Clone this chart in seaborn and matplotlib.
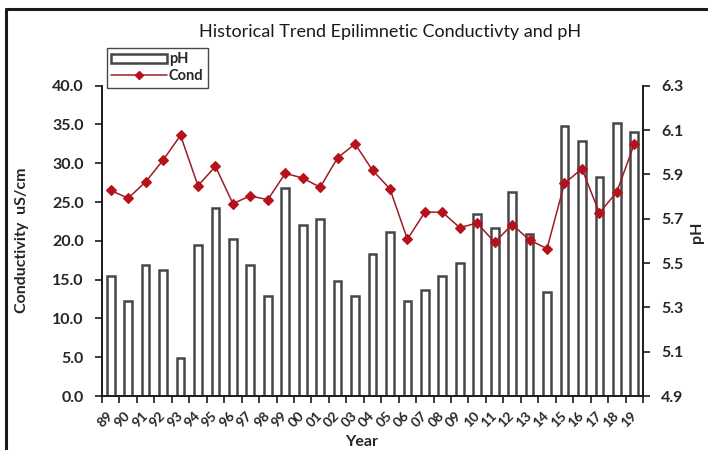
import matplotlib
matplotlib.use("Agg")
import matplotlib.pyplot as plt
from matplotlib.lines import Line2D
from matplotlib.patches import Patch
from matplotlib.ticker import FixedLocator, FixedFormatter, FormatStrFormatter
import seaborn as sns
import pandas as pd

years = ["89", "90", "91", "92", "93", "94", "95", "96", "97", "98",
         "99", "00", "01", "02", "03", "04", "05", "06", "07", "08",
         "09", "10", "11", "12", "13", "14", "15", "16", "17", "18", "19"]
ph = [5.44, 5.33, 5.49, 5.47, 5.07, 5.58, 5.75, 5.61, 5.49, 5.35,
      5.84, 5.67, 5.70, 5.42, 5.35, 5.54, 5.64, 5.33, 5.38, 5.44,
      5.50, 5.72, 5.66, 5.82, 5.63, 5.37, 6.12, 6.05, 5.89, 6.13, 6.09]
cond = [26.5, 25.5, 27.6, 30.4, 33.6, 27.1, 29.6, 24.8, 25.8, 25.3,
        28.7, 28.1, 26.9, 30.7, 32.5, 29.1, 26.7, 20.2, 23.7, 23.7,
        21.7, 22.3, 19.8, 22.1, 20.1, 19.0, 27.4, 29.3, 23.6, 26.3, 32.5]

title = "Historical Trend Epilimnetic Conductivty and pH"
cond_label = "Conductivity  uS/cm"
ph_label = "pH"
x_label = "Year"

df = pd.DataFrame({"Year": years, "pH": ph, "Cond": cond})

sns.set_theme(style="white")
plt.rcParams["font.family"] = ["Lato", "DejaVu Sans"]

TXT = "#262626"
BAR_EDGE = "#474747"
LINE_C = "#9e1b24"
MARK_C = "#b5121b"

fig = plt.figure(figsize=(7.08, 4.5), dpi=100)
fig.patch.set_facecolor("white")
ax1 = fig.add_axes([102 / 708, 1 - 396 / 450, 541 / 708, 310.3 / 450])
ax2 = ax1.twinx()

# pH bars on the right axis
sns.barplot(data=df, x="Year", y="pH", order=years, ax=ax2, color="white",
            edgecolor=BAR_EDGE, linewidth=1.8, width=0.44, errorbar=None)
ax2.set_ylim(4.9, 6.3)

# conductivity line on the left axis, drawn above the bars
sns.pointplot(data=df, x="Year", y="Cond", order=years, ax=ax1,
              color=LINE_C, markers="D", linestyles="-", errorbar=None,
              markersize=5.5, linewidth=1.1)
for ln in ax1.lines:
    ln.set_markerfacecolor(MARK_C)
    ln.set_markeredgecolor(MARK_C)
ax1.set_ylim(0, 40)
ax1.set_zorder(ax2.get_zorder() + 1)
ax1.patch.set_visible(False)

n = len(years)
for ax in (ax1, ax2):
    ax.set_xlim(-0.5, n - 0.5)
    ax.set_xlabel("")
    ax.set_ylabel("")
    for s in ax.spines.values():
        s.set_visible(False)

# x axis: ticks between categories, labels at centers
ax1.spines["bottom"].set_visible(True)
ax1.spines["bottom"].set_color("#1a1a1a")
ax1.spines["bottom"].set_linewidth(1.4)
ax1.xaxis.set_major_locator(FixedLocator([i - 0.5 for i in range(n + 1)]))
ax1.xaxis.set_minor_locator(FixedLocator(list(range(n))))
ax1.set_xticklabels([""] * (n + 1))
ax1.xaxis.set_minor_formatter(FixedFormatter(years))
ax1.tick_params(axis="x", which="major", bottom=True, length=5, width=1.2,
                color="#1a1a1a", direction="out")
ax1.tick_params(axis="x", which="minor", bottom=True, length=0, pad=13,
                labelsize=10, labelcolor=TXT)
for lbl in ax1.xaxis.get_minorticklabels():
    lbl.set_rotation(45)
    lbl.set_rotation_mode("anchor")
    lbl.set_ha("right")
    lbl.set_va("center")
    lbl.set_fontweight("bold")
ax2.tick_params(axis="x", which="both", bottom=False, labelbottom=False)

# left axis (conductivity)
ax1.spines["left"].set_visible(True)
ax1.spines["left"].set_color("#1a1a1a")
ax1.spines["left"].set_linewidth(1.4)
ax1.set_yticks([0, 5, 10, 15, 20, 25, 30, 35, 40])
ax1.yaxis.set_major_formatter(FormatStrFormatter("%.1f"))
ax1.tick_params(axis="y", left=True, length=5, width=1.2, color="#1a1a1a",
                direction="out", labelsize=11.5, labelcolor=TXT, pad=8)
for lbl in ax1.get_yticklabels():
    lbl.set_fontweight("bold")

# right axis (pH)
ax2.spines["right"].set_visible(True)
ax2.spines["right"].set_color("#1a1a1a")
ax2.spines["right"].set_linewidth(1.4)
ax2.set_yticks([4.9, 5.1, 5.3, 5.5, 5.7, 5.9, 6.1, 6.3])
ax2.yaxis.set_major_formatter(FormatStrFormatter("%.1f"))
ax2.tick_params(axis="y", right=True, length=5, width=1.2, color="#1a1a1a",
                direction="out", labelsize=11.5, labelcolor=TXT, pad=8)
for lbl in ax2.get_yticklabels():
    lbl.set_fontweight("bold")

# titles and axis labels
fig.text(390 / 708, 1 - 32 / 450, title, ha="center", va="center",
         fontsize=13, color="#1a1a1a")
fig.text(22 / 708, 1 - 240 / 450, cond_label, rotation=90, ha="center",
         va="center", fontsize=11.5, fontweight="bold", color=TXT)
fig.text(697 / 708, 1 - 232 / 450, ph_label, rotation=90, ha="center",
         va="center", fontsize=11.5, fontweight="bold", color=TXT)
fig.text(362 / 708, 1 - 442 / 450, x_label, ha="center", va="center",
         fontsize=11.5, fontweight="bold", color=TXT)

# legend
handles = [Patch(facecolor="white", edgecolor=BAR_EDGE, linewidth=1.8),
           Line2D([0], [0], color=LINE_C, lw=1.1, marker="D", markersize=4.5,
                  markerfacecolor=MARK_C, markeredgecolor=MARK_C)]
leg = fig.legend(handles, ["pH", "Cond"], loc="upper left",
                 bbox_to_anchor=(107 / 708, 1 - 48 / 450), frameon=True,
                 fancybox=False, edgecolor="#1a1a1a", fontsize=10.5,
                 handlelength=3.8, handleheight=0.6, handletextpad=0.15,
                 labelspacing=0.2, borderpad=0.3, borderaxespad=0)
leg.get_frame().set_linewidth(1.0)
for t in leg.get_texts():
    t.set_fontweight("bold")
    t.set_color(TXT)

# outer frame
fig.add_artist(Line2D([6 / 708, 6 / 708], [0, 1 - 9 / 450], color="#1a1a1a",
                      lw=2.2, transform=fig.transFigure))
fig.add_artist(Line2D([6 / 708, 1], [1 - 9 / 450, 1 - 9 / 450], color="#1a1a1a",
                      lw=2.2, transform=fig.transFigure))

fig.savefig("out.png", dpi=100, facecolor="white")
